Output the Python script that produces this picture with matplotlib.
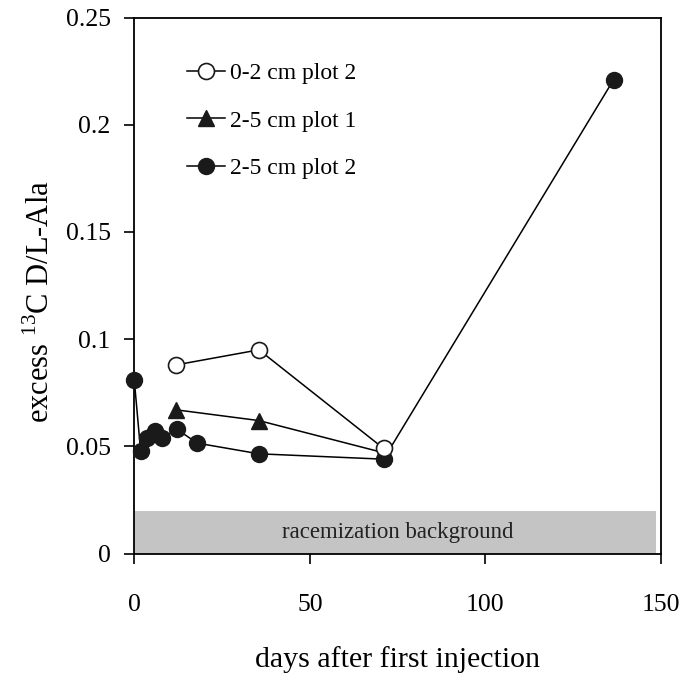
import matplotlib
matplotlib.use("Agg")
import matplotlib.pyplot as plt

plt.rcParams['font.family'] = ['Liberation Serif', 'DejaVu Serif']
plt.rcParams['mathtext.fontset'] = 'custom'
plt.rcParams['mathtext.rm'] = 'Liberation Serif'

# data
days_02_p2 = [12, 35.5, 71]
ala_02_p2 = [0.088, 0.095, 0.049]

days_25_p1 = [12, 35.5, 71]
ala_25_p1 = [0.067, 0.062, 0.047]

days_25_p2 = [0, 1.8, 3.7, 5.9, 8, 12.1, 17.9, 35.5, 71, 136.5]
ala_25_p2 = [0.081, 0.048, 0.054, 0.057, 0.054, 0.058, 0.0515, 0.0465, 0.044, 0.221]

background_level = 0.02
xticks = [0, 50, 100, 150]
yticks = [0, 0.05, 0.1, 0.15, 0.2, 0.25]
ytick_labels = ['0', '0.05', '0.1', '0.15', '0.2', '0.25']

fig = plt.figure(figsize=(6.85, 6.75), dpi=100)
ax = fig.add_axes([0.196, 0.180, 0.769, 0.794])

# racemization background band
ax.fill_between([0, 148.5], 0, background_level, color='#c4c4c4', lw=0, zorder=1)
ax.text(75, background_level / 2, 'racemization background', ha='center', va='center',
        fontsize=16.5, color='#222222', zorder=2)

ax.plot(days_25_p2, ala_25_p2, '-o', color='black', mfc='#1a1a1a', mec='#1a1a1a',
        ms=11.5, lw=1.1, label='2-5 cm plot 2', zorder=3, clip_on=False)
ax.plot(days_25_p1, ala_25_p1, '-^', color='black', mfc='#1a1a1a', mec='#1a1a1a',
        ms=11, lw=1.1, label='2-5 cm plot 1', zorder=4)
ax.plot(days_02_p2, ala_02_p2, '-o', color='black', mfc='white', mec='#1a1a1a',
        mew=1.2, ms=11.5, lw=1.1, label='0-2 cm plot 2', zorder=5)

ax.set_xlim(0, 150)
ax.set_ylim(0, 0.25)
ax.set_xticks(xticks)
ax.set_yticks(yticks)
ax.set_yticklabels(ytick_labels)
ax.tick_params(direction='out', length=7, width=1.2, labelsize=18.5)
ax.tick_params(axis='x', pad=22)
ax.tick_params(axis='y', pad=10)
for s in ax.spines.values():
    s.set_linewidth(1.3)

ax.set_xlabel('days after first injection', fontsize=21.5, labelpad=22)
ax.set_ylabel(r'excess $^{13}$C D/L-Ala', fontsize=22)
ax.yaxis.set_label_coords(-0.148, 0.47)

handles, labels = ax.get_legend_handles_labels()
ax.legend(handles[::-1], labels[::-1], loc='upper left', bbox_to_anchor=(0.06, 0.955),
          frameon=False, fontsize=17, handlelength=1.6, handletextpad=0.2,
          labelspacing=1.09)

fig.savefig('out.png', dpi=100)
